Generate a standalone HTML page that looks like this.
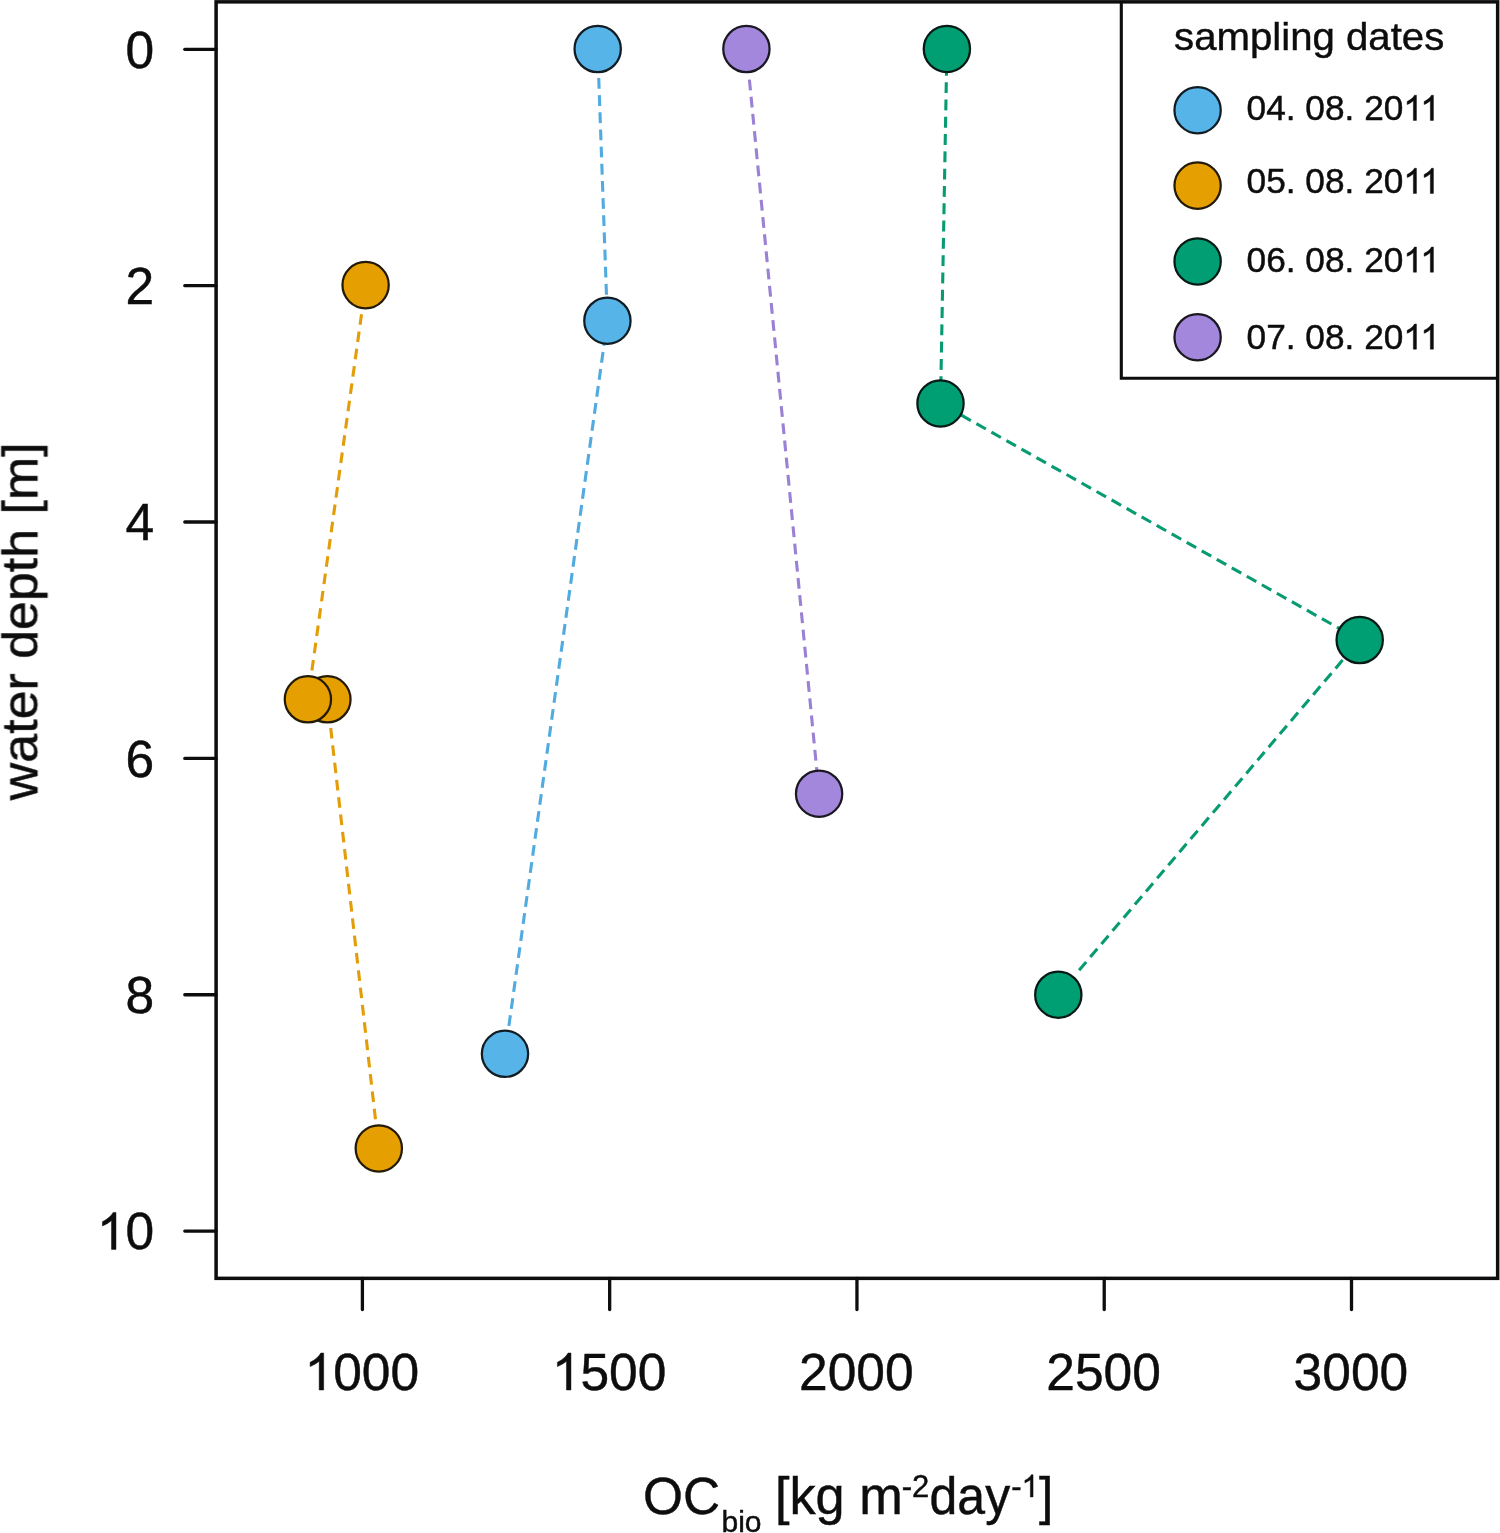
<!DOCTYPE html>
<html><head><meta charset="utf-8"><title>OC bio vs water depth</title>
<style>
html,body{margin:0;padding:0;background:#fff;}
body{width:1500px;height:1533px;overflow:hidden;}
svg{display:block;}
text{font-family:"Liberation Sans", sans-serif;fill:#0d0d0d;stroke:#0d0d0d;stroke-width:0.45px;}
</style></head><body>
<svg width="1500" height="1533" viewBox="0 0 1500 1533">
<rect x="0" y="0" width="1500" height="1533" fill="#ffffff"/>

<g fill="none" stroke-linecap="butt">
<line x1="597.70" y1="49.00" x2="607.40" y2="320.70" stroke="#52ABE0" stroke-width="3.1" stroke-dasharray="10.8 6.37" stroke-dashoffset="5.34"/>
<line x1="607.40" y1="320.70" x2="505.00" y2="1053.80" stroke="#52ABE0" stroke-width="3.1" stroke-dasharray="10.8 6.37" stroke-dashoffset="2.74"/>
<line x1="365.60" y1="285.10" x2="307.90" y2="699.30" stroke="#E29D08" stroke-width="3.1" stroke-dasharray="10.6 6.86" stroke-dashoffset="5.52"/>
<line x1="327.40" y1="699.30" x2="378.80" y2="1148.40" stroke="#E29D08" stroke-width="3.1" stroke-dasharray="10.6 6.82" stroke-dashoffset="5.94"/>
<line x1="946.90" y1="48.90" x2="940.50" y2="403.40" stroke="#089B72" stroke-width="3.1" stroke-dasharray="10.9 6.40" stroke-dashoffset="1.30"/>
<line x1="940.50" y1="403.40" x2="1359.70" y2="640.00" stroke="#089B72" stroke-width="3.1" stroke-dasharray="10.9 6.35" stroke-dashoffset="10.55"/>
<line x1="1359.70" y1="640.00" x2="1075.14" y2="974.89" stroke="#089B72" stroke-width="3.1" stroke-dasharray="10.9 6.32" stroke-dashoffset="8.06"/>
<line x1="746.40" y1="49.00" x2="819.10" y2="793.70" stroke="#9A81D4" stroke-width="3.1" stroke-dasharray="10.8 6.47" stroke-dashoffset="3.84"/>
</g>
<g stroke-width="2.25">
<circle cx="597.7" cy="49.0" r="23.15" fill="#56B4E9" stroke="#121d23"/>
<circle cx="607.4" cy="320.7" r="23.15" fill="#56B4E9" stroke="#121d23"/>
<circle cx="505.0" cy="1053.8" r="23.15" fill="#56B4E9" stroke="#121d23"/>
<circle cx="365.6" cy="285.1" r="23.15" fill="#E69F00" stroke="#231b08"/>
<circle cx="327.4" cy="699.3" r="23.15" fill="#E69F00" stroke="#231b08"/>
<circle cx="307.9" cy="699.3" r="23.15" fill="#E69F00" stroke="#231b08"/>
<circle cx="378.8" cy="1148.4" r="23.15" fill="#E69F00" stroke="#231b08"/>
<circle cx="946.9" cy="48.9" r="23.15" fill="#009E73" stroke="#081a15"/>
<circle cx="940.5" cy="403.4" r="23.15" fill="#009E73" stroke="#081a15"/>
<circle cx="1359.7" cy="640.0" r="23.15" fill="#009E73" stroke="#081a15"/>
<circle cx="1058.3" cy="994.7" r="23.15" fill="#009E73" stroke="#081a15"/>
<circle cx="746.4" cy="49.0" r="23.15" fill="#A287DC" stroke="#1b1822"/>
<circle cx="819.1" cy="793.7" r="23.15" fill="#A287DC" stroke="#1b1822"/>
</g>
<rect x="216.1" y="1.85" width="1281.5500000000002" height="1276.5" fill="none" stroke="#0d0d0d" stroke-width="3.5"/>
<g stroke="#0d0d0d" stroke-width="3.3" stroke-linecap="round">
<line x1="184.8" y1="49.30" x2="216.1" y2="49.30"/>
<line x1="184.8" y1="285.66" x2="216.1" y2="285.66"/>
<line x1="184.8" y1="522.02" x2="216.1" y2="522.02"/>
<line x1="184.8" y1="758.38" x2="216.1" y2="758.38"/>
<line x1="184.8" y1="994.74" x2="216.1" y2="994.74"/>
<line x1="184.8" y1="1231.10" x2="216.1" y2="1231.10"/>
<line x1="362.40" y1="1278.35" x2="362.40" y2="1309.6"/>
<line x1="609.67" y1="1278.35" x2="609.67" y2="1309.6"/>
<line x1="856.95" y1="1278.35" x2="856.95" y2="1309.6"/>
<line x1="1104.22" y1="1278.35" x2="1104.22" y2="1309.6"/>
<line x1="1351.50" y1="1278.35" x2="1351.50" y2="1309.6"/>
</g>
<g style="opacity:0.999">
<text id="t1" transform="translate(154.1,67.6) scale(1.0,1)" font-size="51.5" text-anchor="end">0</text>
<text id="t2" transform="translate(154.1,303.96) scale(1.0,1)" font-size="51.5" text-anchor="end">2</text>
<text id="t3" transform="translate(154.1,540.32) scale(1.0,1)" font-size="51.5" text-anchor="end">4</text>
<text id="t4" transform="translate(154.1,776.68) scale(1.0,1)" font-size="51.5" text-anchor="end">6</text>
<text id="t5" transform="translate(154.1,1013.04) scale(1.0,1)" font-size="51.5" text-anchor="end">8</text>
<g transform="translate(154.1,1249.4) scale(1.0,1)"><path transform="translate(-57.297,0) scale(0.025146,-0.025146)" d="M763 0h-180v1147q-65 -62 -170.5 -124t-189.5 -93v174q151 71 264 172t160 196h116v-1472z" fill="#0d0d0d" stroke="#0d0d0d" stroke-width="17.9"/><text font-size="51.5" text-anchor="start" xml:space="preserve"><tspan x="-28.656">0</tspan></text></g>
<g transform="translate(361.8,1390.0) scale(1.0,1)"><path transform="translate(-57.289,0) scale(0.025146,-0.025146)" d="M763 0h-180v1147q-65 -62 -170.5 -124t-189.5 -93v174q151 71 264 172t160 196h116v-1472z" fill="#0d0d0d" stroke="#0d0d0d" stroke-width="17.9"/><text font-size="51.5" text-anchor="start" xml:space="preserve"><tspan x="-28.648">000</tspan></text></g>
<g transform="translate(609.07,1390.0) scale(1.0,1)"><path transform="translate(-57.289,0) scale(0.025146,-0.025146)" d="M763 0h-180v1147q-65 -62 -170.5 -124t-189.5 -93v174q151 71 264 172t160 196h116v-1472z" fill="#0d0d0d" stroke="#0d0d0d" stroke-width="17.9"/><text font-size="51.5" text-anchor="start" xml:space="preserve"><tspan x="-28.648">500</tspan></text></g>
<text id="t9" transform="translate(856.35,1390.0) scale(1.0,1)" font-size="51.5" text-anchor="middle">2000</text>
<text id="t10" transform="translate(1103.62,1390.0) scale(1.0,1)" font-size="51.5" text-anchor="middle">2500</text>
<text id="t11" transform="translate(1350.9,1390.0) scale(1.0,1)" font-size="51.5" text-anchor="middle">3000</text>
<text transform="translate(37.4,621.3) rotate(-90) scale(1.0385,1)" font-size="50" text-anchor="middle">water depth [m]</text>
<text id="t12" transform="translate(642.9,1513.9) scale(0.985,1)" font-size="52.2" text-anchor="start">OC</text>
<text id="t13" transform="translate(721.5,1531.7) scale(1.0,1)" font-size="30" text-anchor="start">bio</text>
<text id="t14" transform="translate(774.9,1514.0) scale(1.015,1)" font-size="51.5" text-anchor="start">[kg m</text>
<text id="t15" transform="translate(901.8,1497) scale(1.0,1)" font-size="31" text-anchor="start">-2</text>
<text id="t16" transform="translate(929.6,1514.0) scale(0.97,1)" font-size="51.5" text-anchor="start">day</text>
<g transform="translate(1011.2,1497) scale(1.0,1)"><path transform="translate(10.312,0) scale(0.015137,-0.015137)" d="M763 0h-180v1147q-65 -62 -170.5 -124t-189.5 -93v174q151 71 264 172t160 196h116v-1472z" fill="#0d0d0d" stroke="#0d0d0d" stroke-width="29.7"/><text font-size="31" text-anchor="start" xml:space="preserve"><tspan x="0.000">-</tspan></text></g>
<text id="t18" transform="translate(1038.9,1514.0) scale(1.0,1)" font-size="51.5" text-anchor="start">]</text>
<path d="M1121.3 1.85 V378.3 H1497.65" fill="none" stroke="#0d0d0d" stroke-width="3.1"/>
<text id="t19" transform="translate(1174.1,50.4) scale(1.017,1)" font-size="39.5" text-anchor="start">sampling dates</text>
<circle cx="1197.6" cy="110.2" r="23.15" fill="#56B4E9" stroke="#121d23" stroke-width="2.25"/>
<g transform="translate(1246.6,120.39999999999999) scale(1.007,1)"><path transform="translate(155.626,0) scale(0.017090,-0.017090)" d="M763 0h-180v1147q-65 -62 -170.5 -124t-189.5 -93v174q151 71 264 172t160 196h116v-1472z" fill="#0d0d0d" stroke="#0d0d0d" stroke-width="26.3"/><path transform="translate(172.489,0) scale(0.017090,-0.017090)" d="M763 0h-180v1147q-65 -62 -170.5 -124t-189.5 -93v174q151 71 264 172t160 196h116v-1472z" fill="#0d0d0d" stroke="#0d0d0d" stroke-width="26.3"/><text font-size="35.0" text-anchor="start" xml:space="preserve"><tspan x="0.000">04. 08. 20</tspan></text></g>
<circle cx="1197.6" cy="185.6" r="23.15" fill="#E69F00" stroke="#231b08" stroke-width="2.25"/>
<g transform="translate(1246.6,193.4) scale(1.007,1)"><path transform="translate(155.626,0) scale(0.017090,-0.017090)" d="M763 0h-180v1147q-65 -62 -170.5 -124t-189.5 -93v174q151 71 264 172t160 196h116v-1472z" fill="#0d0d0d" stroke="#0d0d0d" stroke-width="26.3"/><path transform="translate(172.489,0) scale(0.017090,-0.017090)" d="M763 0h-180v1147q-65 -62 -170.5 -124t-189.5 -93v174q151 71 264 172t160 196h116v-1472z" fill="#0d0d0d" stroke="#0d0d0d" stroke-width="26.3"/><text font-size="35.0" text-anchor="start" xml:space="preserve"><tspan x="0.000">05. 08. 20</tspan></text></g>
<circle cx="1197.6" cy="261.4" r="23.15" fill="#009E73" stroke="#081a15" stroke-width="2.25"/>
<g transform="translate(1246.6,272.2) scale(1.007,1)"><path transform="translate(155.626,0) scale(0.017090,-0.017090)" d="M763 0h-180v1147q-65 -62 -170.5 -124t-189.5 -93v174q151 71 264 172t160 196h116v-1472z" fill="#0d0d0d" stroke="#0d0d0d" stroke-width="26.3"/><path transform="translate(172.489,0) scale(0.017090,-0.017090)" d="M763 0h-180v1147q-65 -62 -170.5 -124t-189.5 -93v174q151 71 264 172t160 196h116v-1472z" fill="#0d0d0d" stroke="#0d0d0d" stroke-width="26.3"/><text font-size="35.0" text-anchor="start" xml:space="preserve"><tspan x="0.000">06. 08. 20</tspan></text></g>
<circle cx="1197.6" cy="337.2" r="23.15" fill="#A287DC" stroke="#1b1822" stroke-width="2.25"/>
<g transform="translate(1246.6,349.2) scale(1.007,1)"><path transform="translate(155.626,0) scale(0.017090,-0.017090)" d="M763 0h-180v1147q-65 -62 -170.5 -124t-189.5 -93v174q151 71 264 172t160 196h116v-1472z" fill="#0d0d0d" stroke="#0d0d0d" stroke-width="26.3"/><path transform="translate(172.489,0) scale(0.017090,-0.017090)" d="M763 0h-180v1147q-65 -62 -170.5 -124t-189.5 -93v174q151 71 264 172t160 196h116v-1472z" fill="#0d0d0d" stroke="#0d0d0d" stroke-width="26.3"/><text font-size="35.0" text-anchor="start" xml:space="preserve"><tspan x="0.000">07. 08. 20</tspan></text></g>
</g>
</svg></body></html>
